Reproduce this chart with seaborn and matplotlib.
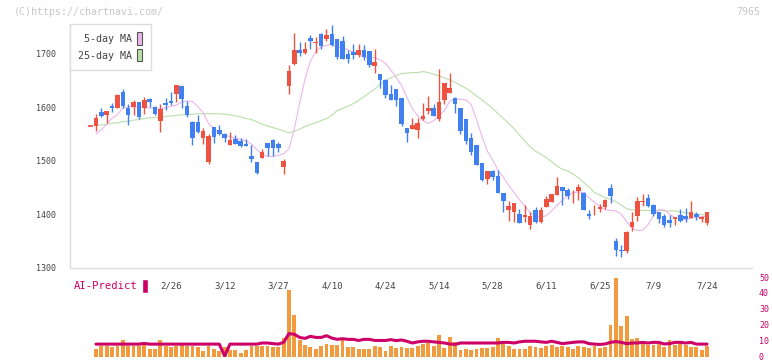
import numpy as np
import pandas as pd
import seaborn as sns
import matplotlib.pyplot as plt
from matplotlib.patches import Patch

# daily candles, oldest first
opens = [1565, 1591, 1586, 1603, 1599, 1629, 1598, 1601, 1609, 1599,
         1615, 1600, 1575, 1608, 1611, 1625, 1639, 1602, 1573, 1572,
         1543, 1498, 1563, 1557, 1550, 1529, 1540, 1536, 1531, 1508,
         1497, 1505, 1533, 1538, 1531, 1489, 1640, 1682, 1708, 1702,
         1729, 1720, 1737, 1728, 1737, 1727, 1725, 1700, 1703, 1698,
         1707, 1705, 1677, 1662, 1652, 1625, 1635, 1617, 1561, 1560,
         1557, 1579, 1594, 1599, 1578, 1614, 1627, 1617, 1598, 1578,
         1542, 1529, 1495, 1466, 1480, 1471, 1439, 1408, 1403, 1400,
         1394, 1380, 1408, 1386, 1413, 1423, 1436, 1451, 1445, 1433,
         1444, 1440, 1401, 1403, 1410, 1413, 1449, 1350, 1333, 1330,
         1376, 1397, 1423, 1430, 1417, 1403, 1397, 1389, 1391, 1398,
         1397, 1393, 1401, 1391, 1384]
highs = [1587, 1598, 1594, 1608, 1624, 1634, 1606, 1613, 1610, 1619,
         1617, 1603, 1606, 1617, 1628, 1642, 1640, 1611, 1575, 1586,
         1561, 1550, 1563, 1566, 1552, 1553, 1548, 1543, 1540, 1529,
         1498, 1521, 1533, 1540, 1535, 1503, 1679, 1740, 1722, 1722,
         1735, 1732, 1739, 1746, 1755, 1728, 1733, 1708, 1718, 1718,
         1716, 1705, 1710, 1662, 1653, 1641, 1635, 1617, 1562, 1580,
         1580, 1608, 1621, 1606, 1671, 1645, 1664, 1619, 1598, 1578,
         1551, 1529, 1495, 1480, 1482, 1482, 1439, 1425, 1420, 1409,
         1417, 1404, 1414, 1414, 1433, 1437, 1470, 1451, 1448, 1445,
         1456, 1441, 1408, 1417, 1419, 1428, 1456, 1355, 1343, 1368,
         1403, 1432, 1437, 1437, 1419, 1403, 1401, 1399, 1395, 1409,
         1411, 1424, 1403, 1397, 1403]
lows = [1555, 1581, 1571, 1591, 1598, 1599, 1567, 1586, 1578, 1588,
        1601, 1585, 1553, 1595, 1605, 1609, 1599, 1582, 1530, 1552,
        1532, 1494, 1533, 1548, 1535, 1529, 1531, 1525, 1527, 1498,
        1475, 1505, 1508, 1508, 1517, 1475, 1624, 1680, 1696, 1699,
        1709, 1702, 1709, 1725, 1715, 1690, 1690, 1683, 1690, 1694,
        1689, 1675, 1664, 1636, 1618, 1613, 1602, 1565, 1535, 1559,
        1543, 1576, 1588, 1584, 1575, 1606, 1627, 1589, 1550, 1531,
        1510, 1492, 1462, 1456, 1464, 1440, 1404, 1388, 1386, 1384,
        1386, 1373, 1384, 1384, 1413, 1423, 1436, 1417, 1429, 1421,
        1426, 1407, 1391, 1399, 1403, 1409, 1421, 1322, 1320, 1328,
        1368, 1388, 1416, 1414, 1397, 1383, 1376, 1376, 1380, 1386,
        1386, 1393, 1389, 1386, 1380]
closes = [1580, 1584, 1594, 1599, 1623, 1603, 1586, 1609, 1582, 1613,
          1610, 1587, 1596, 1604, 1608, 1641, 1616, 1586, 1543, 1553,
          1555, 1546, 1544, 1550, 1542, 1538, 1532, 1528, 1528, 1503,
          1477, 1516, 1524, 1524, 1524, 1499, 1668, 1708, 1702, 1710,
          1724, 1722, 1715, 1735, 1716, 1694, 1690, 1690, 1698, 1707,
          1694, 1679, 1684, 1651, 1623, 1614, 1614, 1568, 1551, 1566,
          1570, 1583, 1598, 1584, 1609, 1645, 1636, 1606, 1555, 1537,
          1517, 1492, 1464, 1480, 1470, 1440, 1425, 1415, 1420, 1384,
          1398, 1396, 1386, 1408, 1429, 1437, 1452, 1444, 1434, 1434,
          1451, 1408, 1397, 1404, 1414, 1426, 1433, 1332, 1330, 1367,
          1386, 1424, 1424, 1416, 1401, 1391, 1380, 1384, 1395, 1388,
          1391, 1404, 1395, 1395, 1403]
prev_doji = 1565  # flat candle cut off at the left edge

ma5 = [1550, 1558, 1568, 1580, 1586, 1599, 1601, 1601, 1601, 1599,
       1599, 1597, 1597, 1599, 1602, 1604, 1610, 1612, 1611, 1601,
       1590, 1570, 1560, 1552, 1548, 1545, 1542, 1540, 1537, 1531,
       1521, 1512, 1508, 1508, 1510, 1513, 1522, 1560, 1608, 1653,
       1686, 1705, 1713, 1716, 1718, 1713, 1711, 1708, 1703, 1698,
       1694, 1693, 1693, 1689, 1682, 1670, 1656, 1641, 1619, 1598,
       1584, 1575, 1570, 1575, 1585, 1594, 1611, 1616, 1615, 1614,
       1605, 1577, 1546, 1518, 1502, 1482, 1469, 1454, 1440, 1427,
       1415, 1403, 1396, 1394, 1397, 1406, 1416, 1426, 1435, 1440,
       1442, 1440, 1430, 1422, 1415, 1408, 1407, 1406, 1400, 1386,
       1374, 1369, 1370, 1380, 1398, 1408, 1408, 1400, 1393, 1391,
       1390, 1392, 1394, 1395, 1396]
ma25 = [1566, 1567, 1568, 1570, 1571, 1573, 1574, 1576, 1577, 1579,
        1580, 1581, 1582, 1583, 1584, 1585, 1586, 1586, 1587, 1588,
        1588, 1588, 1588, 1588, 1587, 1586, 1584, 1582, 1579, 1577,
        1573, 1568, 1565, 1562, 1559, 1556, 1552, 1555, 1559, 1564,
        1568, 1571, 1575, 1579, 1585, 1594, 1598, 1602, 1607, 1613,
        1620, 1627, 1634, 1643, 1650, 1655, 1660, 1663, 1664, 1665,
        1665, 1667, 1665, 1662, 1659, 1655, 1651, 1647, 1641, 1636,
        1629, 1621, 1614, 1606, 1598, 1588, 1579, 1570, 1560, 1548,
        1537, 1526, 1518, 1512, 1506, 1498, 1490, 1484, 1481, 1475,
        1468, 1459, 1451, 1440, 1436, 1431, 1428, 1423, 1417, 1410,
        1408, 1407, 1407, 1407, 1407, 1407, 1406, 1406, 1406, 1404,
        1403, 1401, 1400, 1399, 1398]

volume = [5.0, 6.3, 6.3, 5.7, 6.5, 10.1, 6.5, 6.5, 6.5, 7.4,
          5.0, 5.0, 10.5, 6.5, 5.7, 6.5, 8.6, 6.5, 6.5, 5.7,
          3.2, 6.5, 5.0, 3.2, 5.7, 3.8, 3.8, 2.3, 3.8, 6.5,
          6.5, 6.5, 6.5, 5.7, 5.7, 11.8, 41.6, 26.3, 10.1, 7.4,
          5.9, 5.0, 6.5, 8.0, 7.4, 7.4, 10.9, 5.9, 5.9, 5.0,
          5.0, 5.0, 6.5, 5.9, 3.5, 6.6, 5.6, 6.2, 5.6, 5.6,
          6.7, 8.0, 8.6, 6.7, 13.7, 5.6, 12.4, 9.2, 4.2, 4.8,
          4.2, 4.8, 5.6, 5.6, 6.2, 11.8, 8.0, 6.7, 4.8, 4.8,
          4.8, 6.7, 6.2, 5.6, 6.7, 7.3, 6.2, 6.7, 6.2, 4.8,
          6.7, 6.2, 5.6, 6.7, 5.6, 6.2, 19.8, 49.6, 19.2, 25.5,
          11.1, 11.8, 8.6, 7.3, 7.3, 8.6, 6.2, 10.6, 7.3, 8.0,
          7.3, 6.2, 6.2, 4.2, 6.7]
ai_predict = [7.8, 7.8, 7.8, 7.8, 7.8, 7.8, 7.8, 7.8, 7.8, 8.2,
              7.8, 7.8, 7.8, 7.8, 7.8, 7.8, 7.8, 7.8, 7.8, 7.8,
              7.8, 7.8, 7.8, 7.8, 0.3, 7.8, 7.8, 7.8, 7.8, 7.8,
              7.8, 8.5, 8.5, 8.1, 7.8, 8.9, 14.4, 14.0, 12.0, 11.4,
              12.7, 12.0, 12.0, 13.1, 11.6, 10.8, 11.2, 10.8, 10.8, 10.1,
              10.8, 10.8, 10.1, 10.1, 10.1, 10.6, 10.0, 10.4, 9.6, 8.5,
              9.2, 9.6, 9.6, 9.2, 8.9, 8.5, 7.9, 7.6, 8.5, 8.5,
              8.5, 8.5, 8.5, 8.5, 8.5, 8.5, 8.9, 8.9, 8.5, 9.2,
              9.6, 9.6, 9.6, 9.2, 8.9, 9.6, 8.9, 8.1, 8.5, 8.9,
              9.2, 9.2, 8.1, 7.8, 7.6, 7.9, 8.9, 9.4, 8.9, 8.1,
              8.5, 8.5, 8.9, 8.5, 8.9, 8.9, 7.9, 8.1, 8.9, 8.9,
              8.5, 8.9, 7.8, 7.8, 7.8]

date_labels = ['2/26', '3/12', '3/27', '4/10', '4/24', '5/14',
               '5/28', '6/11', '6/25', '7/9', '7/24']
date_pos = [14, 24, 34, 44, 54, 64, 74, 84, 94, 104, 114]

df = pd.DataFrame({'open': opens, 'high': highs, 'low': lows, 'close': closes,
                   'ma5': ma5, 'ma25': ma25, 'vol': volume, 'ai': ai_predict})
df['i'] = np.arange(len(df))

RED, BLUE = '#ee5241', '#4080f0'
PINK, GREEN = '#ebb6ec', '#b9dfab'
ORANGE, CRIMSON = '#f29a3e', '#cc0066'
GRID = '#dddddd'

sns.set_style("white")
plt.rcParams['font.family'] = ['DejaVu Sans Mono', 'DejaVu Sans']

fig = plt.figure(figsize=(7.72, 3.61), dpi=100)
W, H = 772, 361
ax = fig.add_axes([70 / W, 1 - 267.5 / H, 682 / W, 243.5 / H])
ax2 = fig.add_axes([70 / W, 1 - 356.5 / H, 682 / W, 84.5 / H])

xmin, xmax = -4.85, 122.39

# moving averages behind the candles
sns.lineplot(data=df, x='i', y='ma25', ax=ax, color=GREEN, lw=0.8, zorder=2)
sns.lineplot(data=df, x='i', y='ma5', ax=ax, color=PINK, lw=0.8, zorder=2)

up = df['close'] >= df['open']
cols = np.where(up, RED, BLUE)
ax.vlines(df['i'], df['low'], df['high'], colors=cols, lw=1, zorder=3)
body = np.maximum((df['close'] - df['open']).abs(), 1.8)
ax.bar(df['i'], body, bottom=np.minimum(df['open'], df['close']),
       width=0.85, color=cols, zorder=4, linewidth=0)
ax.hlines(prev_doji, -1.45, -0.55, colors=RED, lw=1.2, zorder=4)

ax.set_xlim(xmin, xmax)
ax.set_ylim(1300, 1756)
for s in ['top', 'right']:
    ax.spines[s].set_visible(False)
for s in ['left', 'bottom']:
    ax.spines[s].set_color(GRID)
    ax.spines[s].set_linewidth(1)
ax.set_yticks([1300, 1400, 1500, 1600, 1700])
ax.tick_params(axis='y', length=5, color=GRID, labelsize=6, labelcolor='#444', pad=5)
ax.set_xticks(np.linspace(xmin, xmax, 12))
ax.set_xticklabels([])
ax.set_xticks(date_pos, minor=True)
ax.set_xticklabels(date_labels, minor=True)
ax.tick_params(axis='x', which='major', length=6, direction='inout', color=GRID)
ax.tick_params(axis='x', which='minor', length=0, pad=10, labelsize=6.5, labelcolor='#444')
ax.set_xlabel('')
ax.set_ylabel('')

leg = ax.legend(handles=[Patch(facecolor=PINK, edgecolor='#555555', lw=0.8, label=' 5-day MA'),
                         Patch(facecolor=GREEN, edgecolor='#555555', lw=0.8, label='25-day MA')],
                loc='upper left', bbox_to_anchor=(0, 1), borderaxespad=0,
                markerfirst=False, fancybox=False, edgecolor=GRID, framealpha=1,
                handlelength=0.55, handleheight=1.5, handletextpad=0.4,
                labelspacing=0.45, borderpad=0.85, prop={'size': 7.2}, labelcolor='#444')
leg.get_frame().set_linewidth(1)

# lower panel: volume bars and AI prediction
ax2.bar(df['i'], df['vol'], width=0.72, color=ORANGE, linewidth=0, zorder=2)
sns.lineplot(data=df, x='i', y='ai', ax=ax2, color=CRIMSON, lw=2.2, zorder=3)
ax2.set_xlim(xmin, xmax)
ax2.set_ylim(0, 53.2)
for s in ax2.spines.values():
    s.set_visible(False)
ax2.set_xticks([])
ax2.set_xlabel('')
ax2.set_ylabel('')
ax2.yaxis.tick_right()
ax2.set_yticks([0, 10, 20, 30, 40, 50])
ax2.tick_params(axis='y', length=0, pad=5, labelsize=6, labelcolor=CRIMSON)
ax2.patch.set_alpha(0)

ax2.legend(handles=[Patch(facecolor=CRIMSON, label='AI-Predict')],
           loc='center left', bbox_to_anchor=(66 / W, 1 - 286 / H), bbox_transform=fig.transFigure,
           frameon=False, markerfirst=False, handlelength=0.55, handleheight=1.6,
           handletextpad=0.5, borderpad=0.2, prop={'size': 7.6}, labelcolor=CRIMSON)

fig.text(14 / W, 1 - 12 / H, '(C)https://chartnavi.com/', color='#c8c8c8',
         fontsize=7.2, va='center', ha='left')
fig.text(760 / W, 1 - 12 / H, '7965', color='#c8c8c8', fontsize=7.2, va='center', ha='right')

fig.savefig('out.png', dpi=100)
